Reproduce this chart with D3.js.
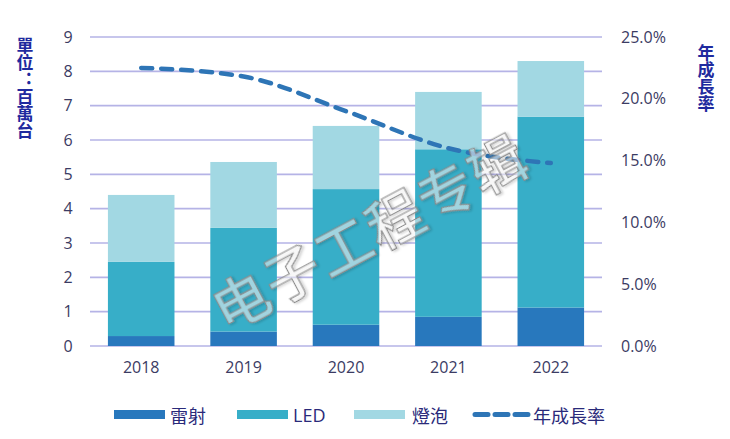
<!DOCTYPE html>
<html><head><meta charset="utf-8">
<script src="https://cdn.jsdelivr.net/npm/d3@7"></script>
<style>body{margin:0;background:#fff}svg{display:block}
.vt{writing-mode:vertical-rl;text-orientation:upright;font-feature-settings:"vert" 0, "vrt2" 0;}</style>
</head><body>
<svg id="c" width="730" height="439"></svg>
<script>
const years = ["2018","2019","2020","2021","2022"];
const laser = [0.29, 0.42, 0.62, 0.85, 1.12];
const led   = [2.16, 3.02, 3.95, 4.88, 5.56];
const bulb  = [1.95, 1.92, 1.84, 1.67, 1.62];
const growth = [22.5, 21.8, 19.0, 16.0, 14.8];
const leftTicks = [0,1,2,3,4,5,6,7,8,9];
const rightTicks = [0,5,10,15,20,25];
const seriesNames = ["雷射","LED","燈泡","年成長率"];
const leftTitle = "單位：百萬台";
const rightTitle = "年成長率";
const colors = ["#2878bd","#37aec8","#a2d8e3","#2e75b6"];

const svg = d3.select("#c");
const x = d3.scaleBand().domain(years).range([90,602]).paddingInner(0.35).paddingOuter(0.175);
const y = d3.scaleLinear().domain([0,9]).range([346,37]);
const y2 = d3.scaleLinear().domain([0,25]).range([346,37]);
const tickColor = "#3b3b63";
const titleColor = "#1f2a9e";
const num = "'Open Sans','Segoe UI',sans-serif";
const cjk = "'Noto Sans CJK TC','Noto Sans CJK SC',sans-serif";

const defs = svg.append("defs");
const f = defs.append("filter").attr("id","sh").attr("x","-10%").attr("y","-10%").attr("width","120%").attr("height","120%");
f.append("feDropShadow").attr("dx",1.5).attr("dy",1.5).attr("stdDeviation",1).attr("flood-color","#000").attr("flood-opacity",0.25);

// gridlines
svg.append("g").selectAll("line").data(leftTicks).join("line")
  .attr("x1",90).attr("x2",602).attr("y1",d=>y(d)).attr("y2",d=>y(d))
  .attr("stroke","#b5b3e6").attr("stroke-width",1.6);

// left axis labels
const ga = svg.append("g").attr("transform","translate(72,0)")
  .call(d3.axisLeft(y).tickValues(leftTicks).tickSize(0).tickPadding(0));
ga.select(".domain").remove();
ga.selectAll("text").attr("font-family",num).attr("font-size",16).attr("fill",tickColor).attr("text-anchor","middle").attr("dx",-4);

// right axis labels
const gr = svg.append("g").attr("transform","translate(621,0)")
  .call(d3.axisRight(y2).tickValues(rightTicks).tickSize(0).tickPadding(0).tickFormat(d=>d.toFixed(1)+"%"));
gr.select(".domain").remove();
gr.selectAll("text").attr("font-family",num).attr("font-size",16).attr("fill",tickColor);

// x axis labels
const gx = svg.append("g").attr("transform","translate(0,362)")
  .call(d3.axisBottom(x).tickSize(0).tickPadding(0));
gx.select(".domain").remove();
gx.selectAll("text").attr("font-family",num).attr("font-size",16).attr("fill",tickColor);

// stacked bars
const rows = years.map((yr,i)=>({year:yr, laser:laser[i], led:led[i], bulb:bulb[i]}));
const stack = d3.stack().keys(["laser","led","bulb"])(rows);
svg.append("g").selectAll("g").data(stack).join("g").attr("fill",(d,i)=>colors[i])
  .selectAll("rect").data(d=>d).join("rect")
  .attr("x",d=>x(d.data.year)).attr("width",x.bandwidth())
  .attr("y",d=>y(d[1])).attr("height",d=>y(d[0])-y(d[1]));

// growth line
const line = d3.line().x((d,i)=>x(years[i])+x.bandwidth()/2).y(d=>y2(d)).curve(d3.curveMonotoneX);
svg.append("path").datum(growth).attr("d",line).attr("fill","none")
  .attr("stroke",colors[3]).attr("stroke-width",4.5).attr("stroke-linecap","round")
  .attr("stroke-dasharray","11,9");

// watermark
svg.append("text").attr("transform","translate(368,229) rotate(-28)")
  .attr("text-anchor","middle").attr("dominant-baseline","central")
  .attr("font-family","'Noto Sans CJK SC',sans-serif").attr("font-size",56).attr("font-weight",500)
  .attr("letter-spacing",2)
  .attr("fill","rgba(255,255,255,0.5)").attr("stroke","#8a8a8a").attr("stroke-width",1.1)
  .attr("filter","url(#sh)")
  .text("电子工程专辑");

// axis titles (vertical)
svg.append("text").attr("class","vt").attr("x",25).attr("y",37)
  .attr("font-family",cjk).attr("font-weight",700).attr("font-size",17).attr("fill",titleColor)
  .text(leftTitle);
svg.append("text").attr("class","vt").attr("x",706).attr("y",44.5)
  .attr("font-family",cjk).attr("font-weight",700).attr("font-size",17).attr("fill",titleColor)
  .text(rightTitle);

// legend
const lx = [114,237,354,472];
const leg = svg.append("g");
seriesNames.forEach((n,i)=>{
  if(i<3){
    leg.append("rect").attr("x",lx[i]).attr("y",410).attr("width",51).attr("height",9).attr("fill",colors[i]);
  } else {
    leg.append("line").attr("x1",lx[i]+3).attr("x2",lx[i]+56).attr("y1",414.5).attr("y2",414.5)
      .attr("stroke",colors[3]).attr("stroke-width",5).attr("stroke-linecap","round").attr("stroke-dasharray","13,7");
  }
  leg.append("text").attr("x",lx[i]+(i==3?61:(i==2?58:56))).attr("y",414.5).attr("dominant-baseline","central")
    .attr("font-family",i==1?num:cjk).attr("font-size",18).attr("fill","#2a2a7a").text(n);
});
</script>
</body></html>
